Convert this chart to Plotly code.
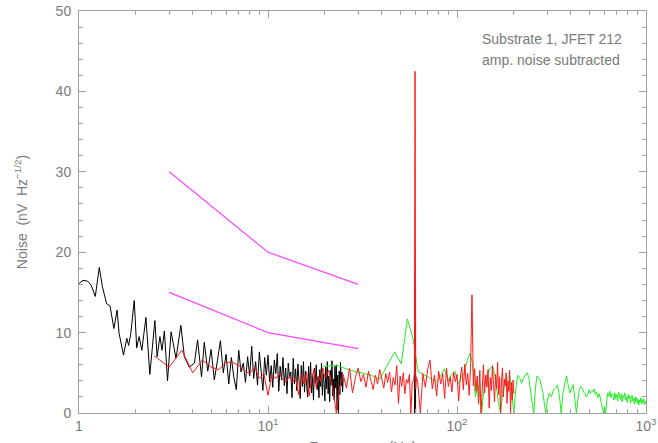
import plotly.graph_objects as go

# black spectrum (1 - 25 Hz), plus the 60 Hz line
black_freq = [1.0, 1.05, 1.11, 1.16, 1.22, 1.28, 1.33, 1.40, 1.46, 1.53, 1.59, 1.63, 1.72, 1.79, 1.83,
              1.88, 1.96, 2.02, 2.08, 2.15, 2.26, 2.37, 2.52, 2.59, 2.68, 2.75, 2.83, 2.94, 3.07, 3.26,
              3.46, 3.61, 3.83, 4.08, 4.24, 4.45,
              4.6, 4.8, 5.0, 5.2, 5.4, 5.6, 5.8, 6.0, 6.2, 6.4,
              6.6, 6.8, 7.0, 7.2, 7.4, 7.6, 7.8, 8.0, 8.2, 8.4,
              8.6, 8.8, 9.0, 9.2, 9.4, 9.6, 9.8, 10.0, 10.2, 10.4,
              10.6, 10.8, 11.0, 11.2, 11.4, 11.6, 11.8, 12.0, 12.2, 12.4,
              12.6, 12.8, 13.0, 13.2, 13.4, 13.6, 13.8, 14.0, 14.2, 14.4,
              14.6, 14.8, 15.0, 15.2, 15.4, 15.6, 15.8, 16.0, 16.2, 16.4,
              16.6, 16.8, 17.0, 17.2, 17.4, 17.6, 17.8, 18.0, 18.2, 18.4,
              18.6, 18.8, 19.0, 19.2, 19.4, 19.6, 19.8, 20.0, 20.2, 20.4,
              20.6, 20.8, 21.0, 21.2, 21.4, 21.6, 21.8, 22.0, 22.2, 22.4,
              22.6, 22.8, 23.0, 23.2, 23.4, 23.6, 23.8, 24.0, 24.2, 24.4,
              24.6, 24.8, 25.0,
              None, 59.6, 60.0, 60.4]
black_noise = [16.1, 16.5, 16.4, 15.9, 14.5, 18.1, 15.7, 13.6, 13.3, 10.5, 12.8, 9.9, 7.2, 9.3, 8.4,
               9.9, 14.0, 8.1, 9.5, 7.8, 11.9, 4.8, 11.5, 7.0, 9.5, 7.8, 10.2, 4.0, 10.1, 6.8,
               10.9, 7.0, 5.7, 6.2, 9.1, 4.5,
               8.8, 5.2, 7.9, 4.1, 6.5, 9.0, 5.0, 7.3, 3.6, 6.9,
               4.4, 2.9, 7.8, 5.1, 6.2, 3.8, 7.0, 4.6, 8.3, 4.3,
               6.4, 3.5, 7.6, 5.4, 2.8, 6.9, 4.7, 7.2, 3.9, 5.9,
               3.2, 6.6, 4.9, 7.4, 2.7, 5.8, 4.1, 6.9, 3.4, 5.6,
               2.4, 6.2, 4.4, 5.1, 1.9, 6.8, 3.6, 5.5, 2.8, 6.1,
               4.2, 1.8, 5.9, 3.3, 6.4, 2.6, 5.2, 3.9, 2.0, 5.8,
               3.1, 6.3, 2.5, 4.8, 1.6, 5.6, 3.7, 6.0, 2.9, 4.5,
               1.9, 5.4, 3.3, 6.2, 2.2, 4.9, 3.8, 1.5, 5.7, 3.0,
               6.4, 2.4, 4.6, 1.4, 5.3, 3.5, 6.5, 2.1, 4.2, 1.6,
               5.8, 3.1, 6.0, 0.4, 4.7, 0.0, 5.2, 2.3, 6.3, 3.4,
               5.1, 2.6, 4.4,
               None, 0.0, 16.0, 0.0]

# red spectrum (2.5 - 200 Hz)
red_freq = [2.5, 3.0, 3.5, 4.0, 4.5, 5.0, 5.5, 6.0, 6.5, 7.0, 7.5, 8.0, 8.5, 9.0, 9.5, 10.0, 10.5, 11.0,
            11.5, 12.0, 12.5, 13.0, 13.5, 14.0, 14.5, 15.0, 15.5, 16.0, 16.5, 17.0, 17.5, 18.0, 18.5,
            19.0, 19.5, 20.0,
            21, 22, 23, 24, 25, 26, 27, 28, 29, 30, 31, 32, 33, 34, 35, 36, 37, 38, 39, 40,
            41, 42, 43, 44, 45, 46, 47, 48, 49, 50, 51, 52, 53, 54, 55, 56, 57, 58,
            59.0, 59.5, 60.0, 60.5, 61.0,
            62, 64, 66, 68, 70, 72, 74, 76, 78, 80, 82, 84, 86, 88, 90, 92, 94, 96, 98, 100,
            102, 104, 106, 108, 110, 112, 114, 116, 118, 120, 122, 124, 126, 128, 130, 132, 134,
            136, 138, 140, 142, 144, 146, 148, 150, 152, 154, 156, 158, 160, 162, 164, 166, 168,
            170, 172, 174, 176, 178, 180, 182, 184, 186, 188, 190, 192, 194, 196, 198, 200]
red_noise = [7.1, 5.7, 7.8, 5.0, 6.6, 5.7, 5.4, 6.3, 6.3, 5.9, 5.3, 4.9, 5.7, 4.3, 4.9, 2.2, 4.8, 4.3,
             4.9, 4.1, 3.9, 4.6, 3.8, 4.4, 2.3, 4.8, 3.6, 5.1, 2.1, 4.2, 5.4, 3.1, 4.6, 3.9, 5.6, 4.4,
             5.3, 3.0, 0.0, 3.4, 4.8, 3.1, 5.6, 2.5, 4.4, 5.6, 3.9, 4.8, 3.2, 5.2, 4.1, 2.9, 4.7, 3.6,
             5.4, 4.3, 3.1, 4.9, 3.8, 5.1, 2.6, 4.4, 3.5, 5.9, 1.2, 4.6, 3.3, 5.0, 2.4, 4.2, 3.7, 4.8,
             0.0, 3.9,
             4.0, 5.0, 42.5, 3.0, 4.5,
             3.8, 0.0, 4.9, 3.2, 5.5, 6.6, 3.0, 4.7, 2.1, 5.2, 3.6, 4.9, 1.8, 5.6, 3.3, 4.5, 2.6, 5.1,
             3.9, 4.8, 1.5, 4.3, 5.7, 2.9, 6.1, 3.5, 4.9, 2.2, 5.8, 14.7, 3.4, 5.5, 2.7, 4.6, 1.1, 5.3,
             0.0, 4.1, 6.0, 2.5, 4.7, 3.2, 5.4, 0.6, 4.4, 2.8, 5.9, 3.6, 1.4, 4.8, 3.0, 6.3, 2.3, 4.5,
             0.0, 3.9, 5.6, 2.0, 4.2, 3.4, 5.0, 1.2, 4.0, 2.7, 5.3, 0.0, 3.8, 1.6, 4.1, 2.4]

# green spectrum (19.5 - 1000 Hz)
green_freq = [19.5, 23.4, 27.3, 31.2, 35.1, 39.0, 42.9, 46.8, 50.7, 54.6, 58.5, 62.4, 66.3, 70.2,
              74.1, 78.0, 81.9, 85.8, 89.7, 93.6, 97.5, 101.4, 105.3, 109.2, 113.1, 117.0, 120.9,
              125, 130, 135, 140, 145, 150, 155, 160, 165, 170, 175, 180, 185, 190, 195, 200,
              205, 210, 215, 220, 225, 230, 235, 240, 245, 250, 255, 260, 265, 270, 275, 280,
              285, 290, 295, 300,
              308, 316, 324, 332, 340, 348, 356, 364, 372, 380, 388, 396, 404, 412, 420, 428,
              436, 444, 452, 460, 468, 476, 484, 492, 500, 508, 516, 524, 532, 540, 548, 556,
              564, 572, 580, 588, 596, 604, 612, 620, 628, 636, 644, 652, 660, 668, 676, 684,
              692, 700, 708, 716, 724, 732, 740, 748, 756, 764, 772, 780, 788, 796, 804, 812,
              820, 828, 836, 844, 852, 860, 868, 876, 884, 892, 900, 908, 916, 924, 932, 940,
              948, 956, 964, 972, 980, 988, 996, 1000]
green_noise = [5.8, 5.9, 5.3, 5.0, 4.7, 4.2, 5.9, 7.6, 6.1, 11.7, 9.3, 5.1, 4.8, 4.5,
               4.2, 3.9, 4.6, 5.5, 4.0, 4.8, 5.2, 3.6, 4.5, 5.0, 6.5, 7.4, 6.2,
               2.0, 3.5, 0.0, 3.8, 4.9, 5.6, 5.7, 4.2, 1.5, 0.0, 2.8, 3.7, 4.4, 4.6, 2.1, 0.0,
               3.2, 4.7, 4.3, 3.7, 4.4, 4.8, 5.0, 4.4, 2.5, 1.2, 0.0, 3.1, 4.6, 4.3, 4.1, 3.3,
               2.5, 1.1, 0.0, 1.5,
               2.5, 2.0, 2.9, 3.1, 3.5, 2.2, 0.0, 2.6, 3.8, 4.6, 3.4, 2.5, 3.1, 3.5, 1.8, 0.0,
               1.7, 2.9, 3.3, 3.1, 2.6, 2.4, 2.0, 2.3, 2.9, 2.4, 2.7, 2.6, 3.0, 2.3, 2.6, 1.9,
               2.4, 2.0, 1.2, 0.4, 0.0, 0.8, 0.0, 1.6, 2.5, 2.1, 2.7, 1.9, 2.4, 2.2, 1.6, 2.5,
               1.8, 2.3, 1.5, 2.6, 2.0, 1.7, 2.4, 1.4, 2.2, 1.9, 2.5, 1.6, 2.0, 1.3, 2.3, 1.8,
               2.1, 1.2, 1.9, 2.2, 1.5, 1.8, 1.1, 2.0, 1.4, 1.9, 1.2, 1.7, 1.0, 1.6, 1.4, 1.9,
               1.1, 1.6, 1.3, 1.8, 1.0, 1.5, 1.2, 1.3]

# magenta reference lines
ref_freq = [3, 10, 30]
ref_upper = [30, 20, 16]
ref_lower = [15, 10, 8]

x_tickvals = [1, 10, 100, 1000]
x_ticktext = ["1", "10<sup>1</sup>", "10<sup>2</sup>", "10<sup>3</sup>"]
x_minor = [m * d for d in (1, 10, 100) for m in range(2, 10)]

AXIS_GRAY = "#a0a0a0"
TEXT_GRAY = "#7a7a7a"
FONT = "Liberation Sans, Arial, sans-serif"

fig = go.Figure()
fig.add_trace(go.Scatter(x=black_freq, y=black_noise, mode="lines",
                         line=dict(color="#000000", width=1)))
fig.add_trace(go.Scatter(x=green_freq, y=green_noise, mode="lines",
                         line=dict(color="#22ee22", width=1)))
fig.add_trace(go.Scatter(x=red_freq, y=red_noise, mode="lines",
                         line=dict(color="#ff1a1a", width=1)))
for vals in (ref_upper, ref_lower):
    fig.add_trace(go.Scatter(x=ref_freq, y=vals, mode="lines",
                             line=dict(color="#ff44ff", width=1.2)))

fig.add_annotation(text="Substrate 1, JFET 212", xref="paper", yref="paper",
                   x=0.708, y=0.93, xanchor="left", yanchor="middle", showarrow=False,
                   font=dict(family=FONT, size=14, color=TEXT_GRAY))
fig.add_annotation(text="amp. noise subtracted", xref="paper", yref="paper",
                   x=0.708, y=0.878, xanchor="left", yanchor="middle", showarrow=False,
                   font=dict(family=FONT, size=14, color=TEXT_GRAY))
fig.add_annotation(text="Frequency  (Hz)", xref="paper", yref="paper",
                   x=0.5, y=-0.058, xanchor="center", yanchor="top", showarrow=False,
                   font=dict(family=FONT, size=15, color=TEXT_GRAY))

fig.update_layout(
    width=658, height=443,
    margin=dict(l=79, r=12, t=11, b=30),
    paper_bgcolor="white", plot_bgcolor="white",
    showlegend=False,
    font=dict(family=FONT, size=14, color=TEXT_GRAY),
    xaxis=dict(
        type="log", range=[0, 3], showgrid=False, zeroline=False,
        showline=True, linecolor=AXIS_GRAY, linewidth=1, mirror="ticks",
        ticks="inside", ticklen=7, tickcolor=AXIS_GRAY,
        tickvals=x_tickvals, ticktext=x_ticktext, ticklabeloverflow="allow",
        tickfont=dict(family=FONT, size=14, color=TEXT_GRAY),
        minor=dict(tickvals=x_minor, ticks="inside", ticklen=4, tickcolor=AXIS_GRAY, showgrid=False),
        automargin=False,
    ),
    yaxis=dict(
        range=[0, 50], showgrid=False, zeroline=False,
        showline=True, linecolor=AXIS_GRAY, linewidth=1, mirror="ticks",
        ticks="inside", ticklen=7, tickcolor=AXIS_GRAY,
        tickvals=[0, 10, 20, 30, 40, 50], ticklabelstandoff=4, ticklabeloverflow="allow",
        tickfont=dict(family=FONT, size=14, color=TEXT_GRAY),
        minor=dict(dtick=2, ticks="inside", ticklen=4, tickcolor=AXIS_GRAY, showgrid=False),
        title=dict(text="Noise  (nV  Hz<sup>−1/2</sup>)", standoff=24,
                   font=dict(family=FONT, size=14, color=TEXT_GRAY)),
        automargin=False,
    ),
)

# drop the default page margin so the 658x443 figure fills the window exactly
fig.write_html("out.html", config={"displayModeBar": False},
               post_script="document.body.style.margin = '0';")
